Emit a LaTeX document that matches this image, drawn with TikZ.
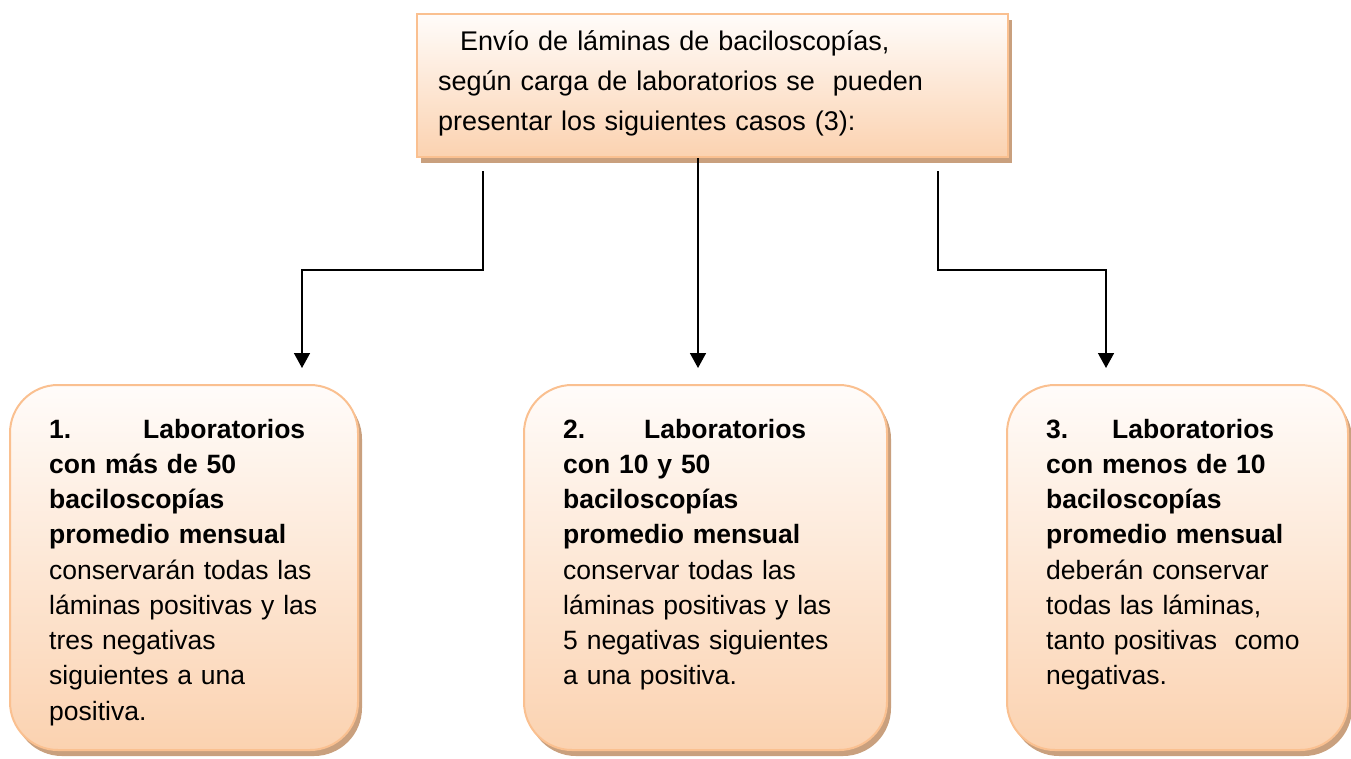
\documentclass[tikz,border=0pt]{standalone}
\usepackage{fontspec}
\setmainfont{Liberation Sans}
\usetikzlibrary{arrows.meta,shadows}
\definecolor{bord}{RGB}{250,192,144}
\definecolor{fillbot}{RGB}{251,210,176}
\definecolor{filltop}{RGB}{255,252,250}
\definecolor{shad}{RGB}{201,160,126}
\begin{document}
\begin{tikzpicture}[x=1pt,y=-1pt,
  conn/.style={line width=1.5pt,black},
  arr/.style={conn,-{Triangle[width=16pt,length=15pt]}},
  boxshade/.style={draw=bord,line width=2pt,top color=filltop,bottom color=fillbot,
    drop shadow={shadow xshift=4pt,shadow yshift=-6pt,fill=shad,opacity=1}},
  topbox/.style={boxshade,rectangle,inner sep=0pt},
  casebox/.style={boxshade,rectangle,rounded corners=48pt,inner sep=0pt},
  boxtext/.style={anchor=base west,inner sep=0pt,text width=#1,align=left,
    font=\fontsize{26.5}{35.25}\selectfont},
  toptext/.style={anchor=base west,inner sep=0pt,text width=#1,align=left,
    font=\fontsize{27}{40}\selectfont}]
\useasboundingbox (0,0) rectangle (1351,758);
% boxes
\node[topbox,minimum width=591pt,minimum height=143pt] (top) at (712.5,85.5) {};
\node[casebox,minimum width=348pt,minimum height=365pt] (b1) at (184,567.5) {};
\node[casebox,minimum width=363pt,minimum height=365pt] (b2) at (705.5,567.5) {};
\node[casebox,minimum width=341pt,minimum height=365pt] (b3) at (1177.5,567.5) {};
% texts
\node[toptext=560pt] (t0) at (438,50) {\hspace*{22pt}Envío de láminas de baciloscopías,\\
según carga de laboratorios se\ \ pueden\\
presentar los siguientes casos (3):};
\node[boxtext=300pt] (t1) at (49,438) {\makebox[256pt][l]{\textbf{1.}\hfill\textbf{Laboratorios}}\\
\textbf{con más de 50}\\
\textbf{baciloscopías}\\
\textbf{promedio mensual}\\
conservarán todas las\\
láminas positivas y las\\
tres negativas\\
siguientes a una\\
positiva.};
\node[boxtext=310pt] (t2) at (563,438) {\makebox[243pt][l]{\textbf{2.}\hfill\textbf{Laboratorios}}\\
\textbf{con 10 y 50}\\
\textbf{baciloscopías}\\
\textbf{promedio mensual}\\
conservar todas las\\
láminas positivas y las\\
5 negativas siguientes\\
a una positiva.};
\node[boxtext=290pt] (t3) at (1046,438) {\makebox[228pt][l]{\textbf{3.}\hfill\textbf{Laboratorios}}\\
\textbf{con menos de 10}\\
\textbf{baciloscopías}\\
\textbf{promedio mensual}\\
deberán conservar\\
todas las láminas,\\
tanto positivas\ \ como\\
negativas.};
% connectors
\coordinate (s1) at (483,171);
\coordinate (k1) at (483,270);
\coordinate (j1) at (302,270);
\coordinate (e1) at (302,368);
\coordinate (s2) at (698,158);
\coordinate (e2) at (698,368);
\coordinate (s3) at (938,171);
\coordinate (k3) at (938,270);
\coordinate (j3) at (1106,270);
\coordinate (e3) at (1106,368);
\draw[arr] (s1) -- (k1) -- (j1) -- (e1);
\draw[arr] (s2) -- (e2);
\draw[arr] (s3) -- (k3) -- (j3) -- (e3);
\end{tikzpicture}
\end{document}
